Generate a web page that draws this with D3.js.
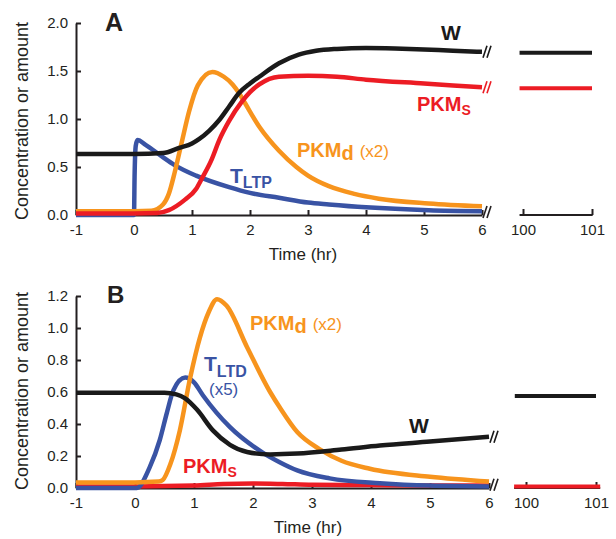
<!DOCTYPE html>
<html>
<head>
<meta charset="utf-8">
<script src="https://cdn.jsdelivr.net/npm/d3@7"></script>
<style>
  body { margin: 0; background: #fff; }
  text { font-family: "Liberation Sans", Arial, sans-serif; }
</style>
</head>
<body>
<script>
// ---------- data ----------
const timeTicks = [-1, 0, 1, 2, 3, 4, 5, 6];
const insetTicks = [100, 101];
const yTicksA = [0, 0.5, 1.0, 1.5, 2.0];
const yTicksB = [0, 0.2, 0.4, 0.6, 0.8, 1.0, 1.2];

// Panel A (LTP)
const wA_t = [-1, 0, 0.5, 0.78, 1.0, 1.12, 1.3, 1.47, 1.64, 1.81, 2.0, 2.16, 2.5, 2.84, 3.14, 3.5, 4, 4.5, 5, 5.5, 6];
const wA   = [0.635, 0.635, 0.645, 0.70, 0.745, 0.79, 0.88, 0.99, 1.13, 1.27, 1.37, 1.44, 1.58, 1.67, 1.71, 1.73, 1.74, 1.735, 1.725, 1.71, 1.70];

const pkmsA_t = [-1, 0, 0.4, 0.6, 0.88, 1.07, 1.17, 1.34, 1.47, 1.64, 1.86, 2.0, 2.16, 2.5, 3.0, 3.5, 4, 5, 6];
const pkmsA   = [0.015, 0.015, 0.02, 0.05, 0.16, 0.27, 0.38, 0.58, 0.78, 0.98, 1.18, 1.28, 1.36, 1.44, 1.45, 1.44, 1.41, 1.37, 1.33];

const pkmdA_t = [-1, 0, 0.3, 0.5, 0.6, 0.7, 0.82, 0.95, 1.1, 1.35, 1.55, 1.7, 1.81, 1.9, 2.16, 2.5, 2.8, 3.0, 3.36, 3.8, 4.22, 5.08, 6];
const pkmdA   = [0.04, 0.04, 0.045, 0.11, 0.22, 0.44, 0.75, 1.08, 1.35, 1.49, 1.44, 1.36, 1.27, 1.18, 0.92, 0.67, 0.5, 0.41, 0.3, 0.22, 0.17, 0.12, 0.09];

const tltpA_t = [-1, 0, 0.01, 0.03, 0.06, 0.2, 0.48, 0.7, 1.07, 1.64, 2.0, 2.5, 3.0, 3.36, 4, 5.08, 6];
const tltpA   = [0, 0, 0.4, 0.72, 0.78, 0.73, 0.61, 0.52, 0.41, 0.29, 0.23, 0.18, 0.13, 0.11, 0.08, 0.05, 0.04];

const insetA_t = [99.95, 101];
const insetWA = [1.69, 1.69];
const insetPkmsA = [1.32, 1.32];

// Panel B (LTD)
const wB_t = [-1, 0, 0.5, 0.7, 0.85, 1.05, 1.32, 1.61, 1.9, 2.29, 2.75, 3.5, 4.15, 5, 6];
const wB   = [0.595, 0.595, 0.595, 0.585, 0.56, 0.49, 0.36, 0.27, 0.225, 0.21, 0.215, 0.24, 0.265, 0.29, 0.32];

const tltdB_t = [-1, 0, 0.03, 0.25, 0.42, 0.54, 0.65, 0.85, 1.0, 1.15, 1.61, 2.17, 2.46, 2.75, 3.3, 4.15, 5, 6];
const tltdB   = [0, 0, 0, 0.13, 0.3, 0.47, 0.61, 0.69, 0.66, 0.58, 0.38, 0.22, 0.16, 0.11, 0.06, 0.03, 0.015, 0.01];

const pkmdB_t = [-1, 0, 0.4, 0.47, 0.6, 0.76, 0.93, 1.1, 1.25, 1.39, 1.55, 1.9, 2.29, 2.46, 2.75, 3.14, 3.5, 3.98, 5, 6];
const pkmdB   = [0.035, 0.035, 0.04, 0.05, 0.15, 0.36, 0.68, 0.94, 1.1, 1.18, 1.14, 0.88, 0.6, 0.5, 0.35, 0.24, 0.17, 0.12, 0.07, 0.04];

const pkmsB_t = [-1, 0, 1, 1.5, 2, 2.5, 3, 4, 5, 6];
const pkmsB   = [0.01, 0.01, 0.015, 0.025, 0.028, 0.025, 0.02, 0.018, 0.015, 0.015];

const insetB_t = [99.84, 101];
const insetWB = [0.575, 0.575];
const insetRedB_t = [99.83, 101.06];
const insetPkmsB = [0.01, 0.01];

// ---------- styles ----------
const C = { black: "#1a1a1a", red: "#ec1c24", orange: "#f7941d", blue: "#3953a4", axis: "#231f20" };

const svg = d3.select("body").append("svg")
  .attr("width", 616)
  .attr("height", 539);

const zip = (ts, vs) => ts.map((t, i) => [t, vs[i]]);

function breakMark(g, x, y, color) {
  [0, 4].forEach(dx => {
    g.append("line")
      .attr("x1", x + dx - 1).attr("y1", y + 6)
      .attr("x2", x + dx + 3).attr("y2", y - 6)
      .attr("stroke", color)
      .attr("stroke-width", 1.6);
  });
}

function drawPanel(p) {
  const g = svg.append("g");
  const x = d3.scaleLinear().domain([-1, 6]).range(p.xRange);
  const y = d3.scaleLinear().domain(p.yDomain).range(p.yRange);
  const xi = d3.scaleLinear().domain([100, 101]).range(p.insetRange);

  // axes (plain hyphen for negatives, as in the figure)
  const xAxis = g.append("g")
    .attr("transform", `translate(0,${y(0)})`)
    .call(d3.axisBottom(x).tickValues(timeTicks).tickFormat(d => String(d))
      .tickSizeInner(-5).tickSizeOuter(0).tickPadding(9));
  const yAxis = g.append("g")
    .attr("transform", `translate(${x(-1)},0)`)
    .call(d3.axisLeft(y).tickValues(p.yTicks).tickFormat(d3.format(".1f"))
      .tickSizeInner(-5).tickSizeOuter(0).tickPadding(8));
  const inAxis = g.append("g")
    .attr("transform", `translate(0,${y(0)})`)
    .call(d3.axisBottom(xi).tickValues(insetTicks).tickFormat(d => String(d))
      .tickSizeInner(-6).tickSizeOuter(0).tickPadding(9));
  inAxis.select(".domain").remove();
  g.append("line")
    .attr("x1", xi(p.insetAxis[0])).attr("x2", xi(p.insetAxis[1]))
    .attr("y1", y(0)).attr("y2", y(0))
    .attr("stroke", C.axis).attr("stroke-width", 2);

  [xAxis, yAxis, inAxis].forEach(a => {
    a.selectAll("path,line").attr("stroke", C.axis).attr("stroke-width", 2);
    a.selectAll("text").attr("font-size", 15).attr("fill", "#231f20")
      .style("font-family", '"Liberation Sans", Arial, sans-serif');
  });

  // curves
  const line = d3.line()
    .x(d => x(d[0]))
    .y(d => y(d[1]))
    .curve(d3.curveMonotoneX);
  p.series.forEach(s => {
    g.append("path")
      .datum(zip(s.t, s.v))
      .attr("fill", "none")
      .attr("stroke", s.color)
      .attr("stroke-width", 4.5)
      .attr("d", line);
  });

  // inset (late time) lines
  const iline = d3.line().x(d => xi(d[0])).y(d => y(d[1]));
  p.inset.forEach(s => {
    g.append("path")
      .datum(zip(s.t, s.v))
      .attr("fill", "none")
      .attr("stroke", s.color)
      .attr("stroke-width", 4)
      .attr("d", iline);
  });

  // axis breaks
  p.breaks.forEach(b => breakMark(g, x(6) + 2, y(b.v), b.color));

  // axis titles
  g.append("text")
    .attr("x", p.timeLabel[0]).attr("y", p.timeLabel[1])
    .attr("text-anchor", "middle")
    .attr("font-size", 17).attr("fill", "#231f20")
    .text("Time (hr)");
  g.append("text")
    .attr("transform", `translate(28,${p.yLabelMid}) rotate(-90)`)
    .attr("text-anchor", "middle")
    .attr("font-size", 18).attr("fill", "#231f20")
    .text("Concentration or amount");

  return g;
}

const gA = drawPanel({
  xRange: [76, 482], yDomain: [0, 2], yRange: [215, 23], yTicks: yTicksA,
  insetRange: [523, 592], insetAxis: [99.95, 101.01],
  series: [
    { t: tltpA_t, v: tltpA, color: C.blue },
    { t: pkmdA_t, v: pkmdA, color: C.orange },
    { t: pkmsA_t, v: pkmsA, color: C.red },
    { t: wA_t, v: wA, color: C.black }
  ],
  inset: [
    { t: insetA_t, v: insetWA, color: C.black },
    { t: insetA_t, v: insetPkmsA, color: C.red }
  ],
  breaks: [
    { v: wA[wA.length - 1], color: C.black },
    { v: pkmsA[pkmsA.length - 1], color: C.red },
    { v: 0.03, color: C.axis }
  ],
  timeLabel: [303, 260], yLabelMid: 121
});

const gB = drawPanel({
  xRange: [76, 489], yDomain: [0, 1.2], yRange: [488, 296], yTicks: yTicksB,
  insetRange: [526, 596], insetAxis: [99.83, 101.06],
  series: [
    { t: pkmsB_t, v: pkmsB, color: C.red },
    { t: tltdB_t, v: tltdB, color: C.blue },
    { t: pkmdB_t, v: pkmdB, color: C.orange },
    { t: wB_t, v: wB, color: C.black }
  ],
  inset: [
    { t: insetB_t, v: insetWB, color: C.black },
    { t: insetRedB_t, v: insetPkmsB, color: C.red }
  ],
  breaks: [
    { v: wB[wB.length - 1], color: C.black },
    { v: 0.02, color: C.axis }
  ],
  timeLabel: [308, 533], yLabelMid: 391
});

// ---------- labels ----------
function label(g, opt) {
  const t = g.append("text")
    .attr("x", opt.x).attr("y", opt.y)
    .attr("fill", opt.color)
    .attr("text-anchor", opt.anchor || "start");
  opt.parts.forEach(pt => {
    const s = t.append("tspan").text(pt.text)
      .attr("font-size", pt.size)
      .attr("font-weight", pt.bold ? "bold" : "normal");
    if (pt.dy) s.attr("dy", pt.dy);
    if (pt.dx) s.attr("dx", pt.dx);
  });
}

// Panel A
label(gA, { x: 105, y: 31, color: C.axis, parts: [{ text: "A", size: 25, bold: true }] });
label(gA, { x: 451, y: 40, color: C.black, anchor: "middle", parts: [{ text: "W", size: 21, bold: true }] });
label(gA, { x: 417, y: 111, color: C.red, parts: [
  { text: "PKM", size: 20, bold: true }, { text: "S", size: 14, bold: true, dy: 4 } ] });
label(gA, { x: 297, y: 157, color: C.orange, parts: [
  { text: "PKM", size: 20, bold: true }, { text: "d", size: 20, bold: true, dy: 3 },
  { text: "(x2)", size: 17, dy: -3, dx: 6 } ] });
label(gA, { x: 230, y: 183, color: C.blue, parts: [
  { text: "T", size: 21, bold: true }, { text: "LTP", size: 16, bold: true, dy: 5 } ] });

// Panel B
label(gB, { x: 107, y: 303, color: C.axis, parts: [{ text: "B", size: 24, bold: true }] });
label(gB, { x: 250, y: 330, color: C.orange, parts: [
  { text: "PKM", size: 20, bold: true }, { text: "d", size: 20, bold: true, dy: 3 },
  { text: "(x2)", size: 17, dy: -3, dx: 6 } ] });
label(gB, { x: 204, y: 371, color: C.blue, parts: [
  { text: "T", size: 21, bold: true }, { text: "LTD", size: 16, bold: true, dy: 6 } ] });
label(gB, { x: 209, y: 395, color: C.blue, parts: [{ text: "(x5)", size: 17 }] });
label(gB, { x: 183, y: 473, color: C.red, parts: [
  { text: "PKM", size: 20, bold: true }, { text: "S", size: 14, bold: true, dy: 4 } ] });
label(gB, { x: 419, y: 433, color: C.black, anchor: "middle", parts: [{ text: "W", size: 21, bold: true }] });
</script>
</body>
</html>
